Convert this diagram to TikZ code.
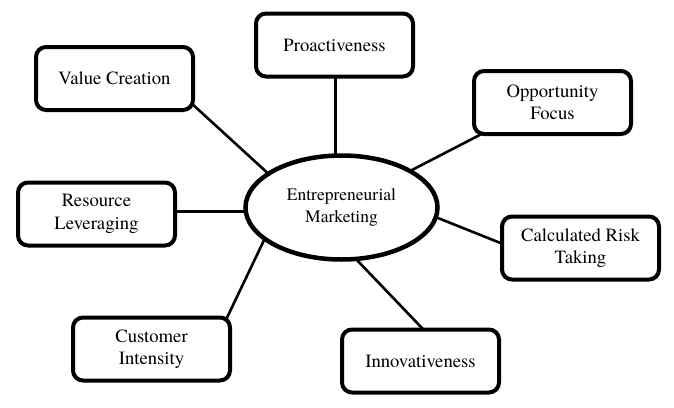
\documentclass[tikz,border=0pt]{standalone}
\usepackage{fontspec}
\setmainfont{texgyretermes-regular.otf}
\usetikzlibrary{shapes.geometric,calc}
\pgfdeclarelayer{bg}
\pgfsetlayers{bg,main}
\begin{document}
\begin{tikzpicture}[x=1pt,y=-1pt,
  box/.style={draw,line width=4pt,rounded corners=10pt,fill=white,
    minimum width=157pt,minimum height=63pt,inner sep=0pt,align=center,
    font=\fontsize{18.7}{22.5}\selectfont},
  hub/.style={draw,ellipse,line width=4.5pt,fill=white,
    minimum width=192pt,minimum height=104pt,inner sep=0pt,align=center,
    font=\fontsize{17.5}{22.5}\selectfont},
  link/.style={line width=2.6pt}]
\useasboundingbox (0,0) rectangle (674,407);
\node[hub] (em) at (341.5,207.5) {Entrepreneurial\\Marketing};
\node[box] (vc) at (114.5,78.5) {Value Creation};
\node[box] (pr) at (334.5,45) {Proactiveness};
\node[box] (of) at (552.5,102.5) {Opportunity\\Focus};
\node[box] (rl) at (96.5,214) {Resource\\Leveraging};
\node[box] (cr) at (580.5,248) {Calculated Risk\\Taking};
\node[box] (ci) at (151.5,349) {Customer\\Intensity};
\node[box] (in) at (420.5,361) {Innovativeness};
\begin{pgfonlayer}{bg}
\draw[link] ($(vc.center)+(73.5,21.7)$) -- ($(em.center)+(-56.5,-18.6)$);
\draw[link] ($(pr.center)+(1,0)$) -- ($(em.center)+(-6,0)$);
\draw[link] ($(of.center)+(-57.5,24.6)$) -- ($(em.center)+(63.5,-33.9)$);
\draw[link] ($(rl.center)+(60,-2.3)$) -- ($(em.center)+(-60,4.2)$);
\draw[link] ($(cr.center)+(-60.5,2.8)$) -- ($(em.center)+(78.5,3.3)$);
\draw[link] ($(ci.center)+(72,-24)$) -- ($(em.center)+(-75,27.5)$);
\draw[link] ($(in.center)+(9.1,-25)$) -- ($(em.center)+(5.8,42.5)$);
\end{pgfonlayer}
\end{tikzpicture}
\end{document}
